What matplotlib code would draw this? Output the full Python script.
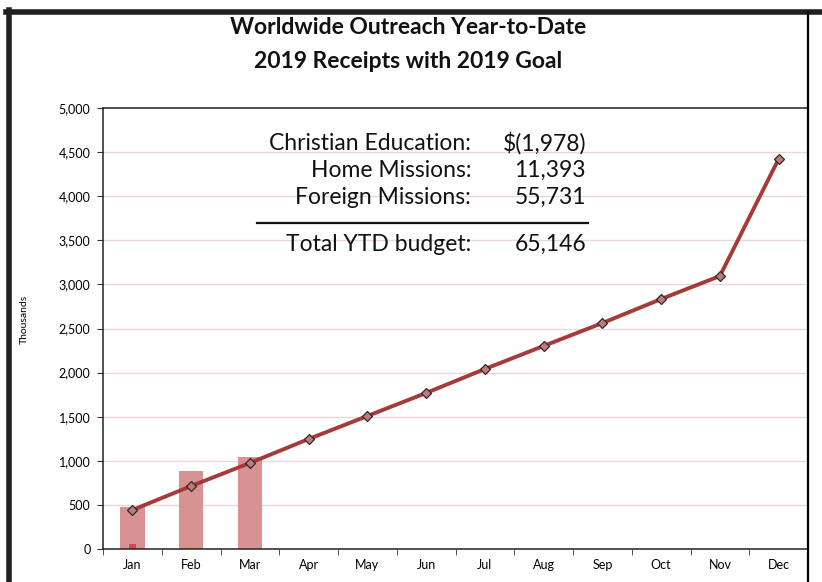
import matplotlib
matplotlib.use("Agg")
from matplotlib import pyplot as plt
from matplotlib.lines import Line2D
import numpy as np

plt.rcParams['font.family'] = ['Lato', 'DejaVu Sans']

# data (thousands)
months = ['Jan', 'Feb', 'Mar', 'Apr', 'May', 'Jun',
          'Jul', 'Aug', 'Sep', 'Oct', 'Nov', 'Dec']
receipts = [476, 884, 1043]
prior = [60]
goal = [442, 714, 975, 1247, 1508, 1769, 2041, 2302, 2562, 2834, 3095, 4422]

summary_labels = ['Christian Education:', 'Home Missions:', 'Foreign Missions:']
summary_values = ['$(1,978)', '11,393', '55,731']
total_label = 'Total YTD budget:'
total_value = '65,146'

fig = plt.figure(figsize=(8.22, 5.82), dpi=100)
ax = fig.add_axes([103/822, 1 - 549/582, 705/822, 441/582])

x = np.arange(len(months))
ax.bar(x[:len(receipts)], receipts, width=0.42, color='#d99293', zorder=2)
ax.bar(x[:len(prior)], prior, width=0.12, color='#d0484a', zorder=2)
ax.plot(x, goal, color='#a63a38', lw=2.8, zorder=3,
        marker='D', ms=5.5, mfc='#c27a78', mec='#2a2a2a', mew=0.9)

ax.set_xlim(-0.5, 11.5)
ax.set_ylim(0, 5000)
ax.set_yticks(np.arange(0, 5001, 500))
ax.set_yticklabels(['{:,}'.format(v) for v in range(0, 5001, 500)], fontsize=9)
ax.set_xticks(x)
ax.set_xticklabels(months, fontsize=9)
ax.set_xticks(np.arange(-0.5, 12, 1), minor=True)
ax.tick_params(axis='x', which='major', length=0, pad=7)
ax.tick_params(axis='x', which='minor', length=4, direction='out', color='#333333')
ax.tick_params(axis='y', length=4, color='#333333', pad=5)
for v in range(500, 5000, 500):
    ax.axhline(v, color='#ecd6d8', lw=1, zorder=1)
ax.spines['right'].set_visible(False)
for s in ['left', 'bottom', 'top']:
    ax.spines[s].set_color('#222222')
    ax.spines[s].set_linewidth(1.1)

ax.set_ylabel('Thousands', fontsize=7.5)
ax.yaxis.set_label_coords(-0.105, 0.52)

# title
fig.text(408/822, 1 - 28/582, 'Worldwide Outreach Year-to-Date', ha='center', va='center',
         fontsize=16.5, fontweight='bold', color='#111111')
fig.text(408/822, 1 - 62/582, '2019 Receipts with 2019 Goal', ha='center', va='center',
         fontsize=16.5, fontweight='bold', color='#111111')

# summary table
ys = [143, 170, 197]
for lab, val, yy in zip(summary_labels, summary_values, ys):
    fig.text(471/822, 1 - yy/582, lab, ha='right', va='center', fontsize=16.5, color='#111111')
    fig.text(586/822, 1 - yy/582, val, ha='right', va='center', fontsize=16.5, color='#111111')
fig.add_artist(Line2D([257/822, 588/822], [1 - 223/582, 1 - 223/582], color='#111111', lw=1.6))
fig.text(471/822, 1 - 244/582, total_label, ha='right', va='center', fontsize=16.5, color='#111111')
fig.text(586/822, 1 - 244/582, total_value, ha='right', va='center', fontsize=16.5, color='#111111')

# frame
fig.add_artist(Line2D([6/822, 1], [1 - 11.5/582, 1 - 11.5/582], color='#231f20', lw=4))
fig.add_artist(Line2D([8.5/822, 8.5/822], [0, 1 - 10/582], color='#231f20', lw=4))
fig.add_artist(Line2D([808/822, 808/822], [0, 1 - 12/582], color='#000000', lw=1.6))

fig.savefig('out.png', dpi=100)
